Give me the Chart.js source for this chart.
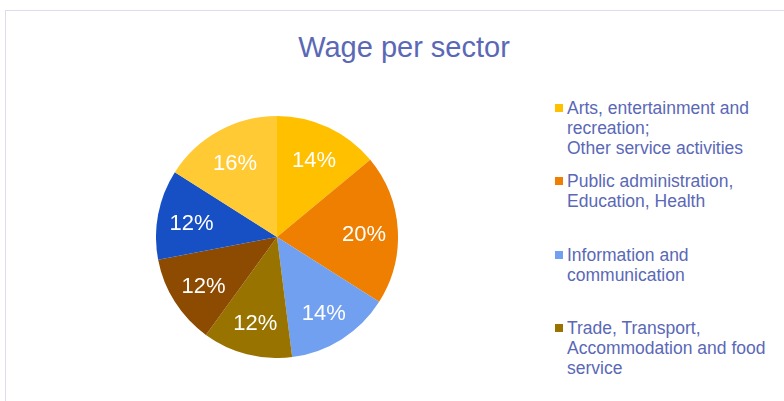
<!DOCTYPE html>
<html>
<head>
<meta charset="utf-8">
<script src="https://cdn.jsdelivr.net/npm/chart.js@4/dist/chart.umd.min.js"></script>
<style>
  html, body { margin: 0; padding: 0; background: #fff; }
  #wrap { position: relative; width: 784px; height: 401px; overflow: hidden; font-family: "Liberation Sans", Arial, sans-serif; }
  #frame { position: absolute; left: 5px; top: 10px; width: 800px; height: 420px; border-top: 1px solid #dcdcef; border-left: 1px solid #dcdcef; }
  #title { position: absolute; left: 5px; width: 798px; top: 30px; text-align: center; font-size: 29px; color: #5a68b6; line-height: 34px; }
  #pie { position: absolute; left: 156px; top: 116px; }
  .item { position: absolute; left: 555px; font-size: 17.5px; line-height: 20px; color: #5a68b6; }
  .item .box { position: absolute; left: 0; top: 6px; width: 8px; height: 8px; }
  .item .txt { position: absolute; left: 12px; top: 0; white-space: nowrap; }
</style>
</head>
<body>
<div id="wrap">
  <div id="frame"></div>
  <div id="title">Wage per sector</div>
  <canvas id="pie" width="242" height="242"></canvas>
  <div id="legend"></div>
</div>
<script>
// sectors, clockwise from 12 o'clock; only the first four fit in the legend
const sectors = [
  ['Arts, entertainment and', 'recreation;', 'Other service activities'],
  ['Public administration,', 'Education, Health'],
  ['Information and', 'communication'],
  ['Trade, Transport,', 'Accommodation and food', 'service'],
  ['Industry'],
  ['Construction'],
  ['Financial and insurance activities']
];
const shares = [14, 20, 14, 12, 12, 12, 16];
const colors = ['#ffc000', '#ef7f00', '#71a0f0', '#997300', '#8c4b00', '#1650c4', '#ffca33'];
const legendCount = 4;

// percentage labels drawn inside each slice
const sliceLabels = {
  id: 'sliceLabels',
  afterDatasetsDraw(chart) {
    const ctx = chart.ctx;
    const total = shares.reduce((a, b) => a + b, 0);
    ctx.save();
    ctx.font = '22px "Liberation Sans", Arial, sans-serif';
    ctx.fillStyle = '#ffffff';
    ctx.textAlign = 'center';
    ctx.textBaseline = 'middle';
    chart.getDatasetMeta(0).data.forEach((arc, i) => {
      const a = (arc.startAngle + arc.endAngle) / 2;
      const r = arc.outerRadius * 0.72;
      const pct = Math.round(shares[i] / total * 100) + '%';
      ctx.fillText(pct, arc.x + Math.cos(a) * r, arc.y + Math.sin(a) * r + 3);
    });
    ctx.restore();
  }
};

new Chart(document.getElementById('pie'), {
  type: 'pie',
  data: {
    labels: sectors.map(s => s.join(' ')),
    datasets: [{
      data: shares,
      backgroundColor: colors,
      borderWidth: 0
    }]
  },
  options: {
    responsive: false,
    animation: false,
    layout: { padding: 0 },
    plugins: {
      legend: { display: false },
      tooltip: { enabled: false }
    }
  },
  plugins: [sliceLabels]
});

// legend on the right (clipped after four entries, as in the original)
const legend = document.getElementById('legend');
sectors.slice(0, legendCount).forEach((lines, i) => {
  const item = document.createElement('div');
  item.className = 'item';
  item.style.top = (98 + i * 73.3) + 'px';
  const box = document.createElement('div');
  box.className = 'box';
  box.style.background = colors[i];
  const txt = document.createElement('div');
  txt.className = 'txt';
  txt.innerHTML = lines.join('<br>');
  item.appendChild(box);
  item.appendChild(txt);
  legend.appendChild(item);
});
</script>
</body>
</html>
